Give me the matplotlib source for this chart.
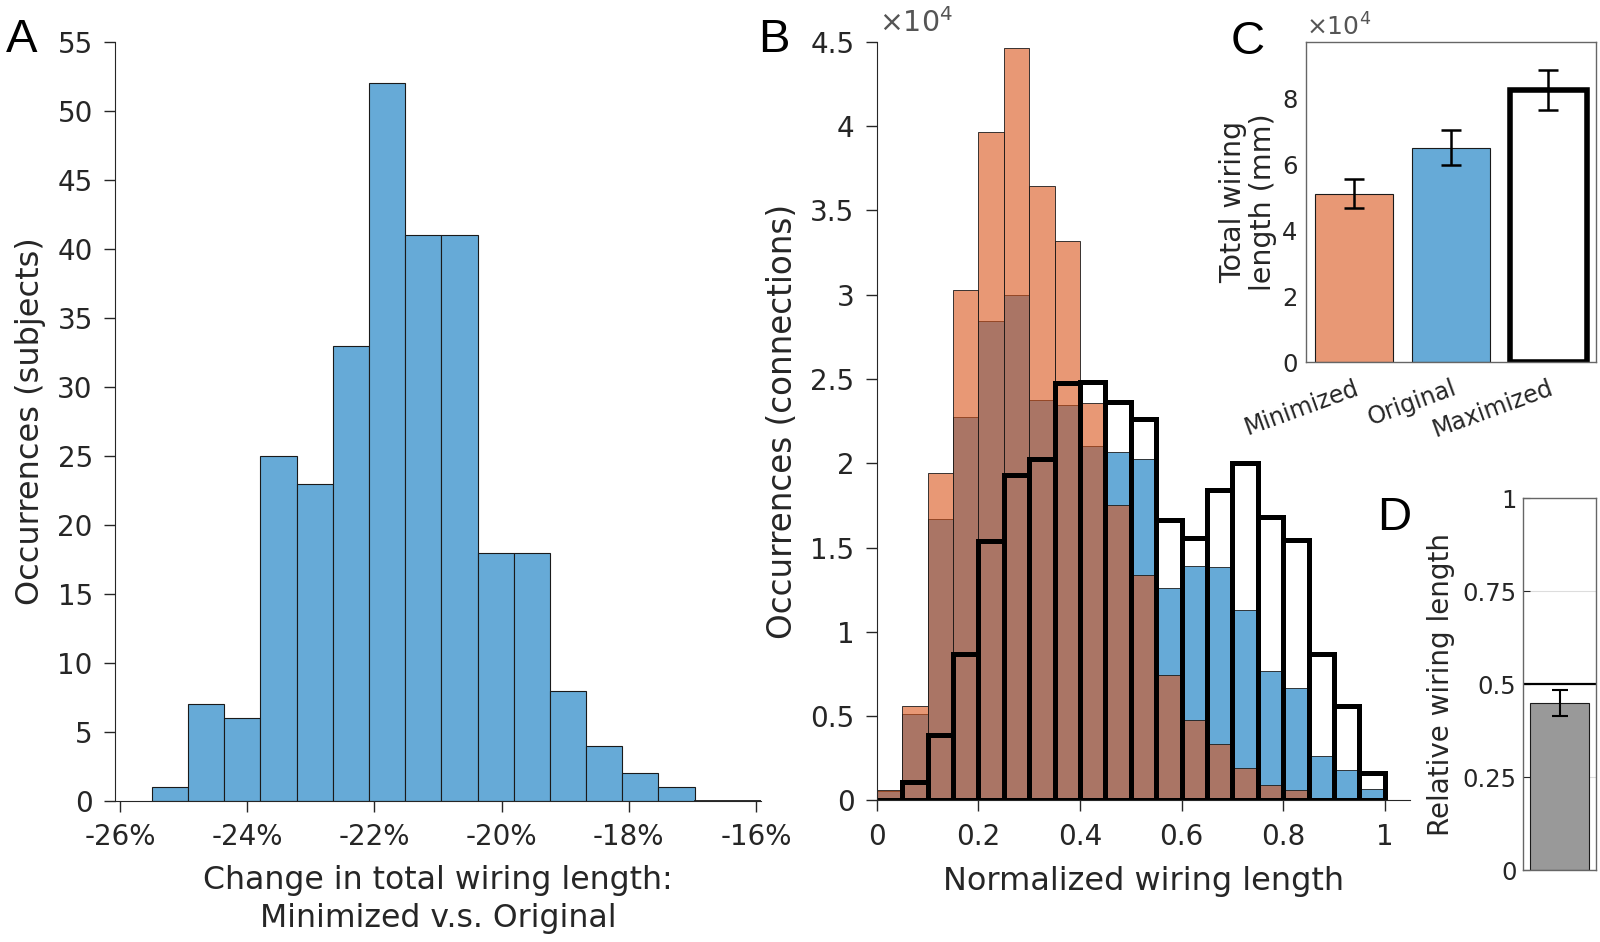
import numpy as np
import matplotlib
matplotlib.use('Agg')
import matplotlib.pyplot as plt

# Painel A: variação do comprimento total (minimizado vs original)
a_counts = [1, 7, 6, 25, 23, 33, 52, 41, 41, 18, 18, 8, 4, 2, 1, 0, 0]
a_left = -25.5
a_binw = 0.569
a_xticks = [-26, -24, -22, -20, -18, -16]
a_yticks = [0, 5, 10, 15, 20, 25, 30, 35, 40, 45, 50, 55]

# Painel B: histogramas do comprimento normalizado (20 bins de 0.05)
b_binw = 0.05
b_min = [600, 5620, 19410, 30280, 39660, 44630, 36460, 33170, 23600, 17520,
         13390, 7450, 4780, 3320, 1930, 930, 620, 160, 60, 0]
b_orig = [580, 5120, 16680, 22730, 28450, 29970, 23760, 23450, 21000, 20650,
          20250, 12610, 13910, 13850, 11300, 7670, 6680, 2610, 1830, 700]
b_max = [0, 1090, 3880, 8700, 15370, 19320, 20250, 24780, 24840, 23660,
         22610, 16610, 15590, 18390, 20000, 16830, 15430, 8700, 5590, 1610]
b_xticks = [0, 0.2, 0.4, 0.6, 0.8, 1]
b_yticks = [0, 0.5, 1, 1.5, 2, 2.5, 3, 3.5, 4, 4.5]

# Painel C: comprimento total
c_labels = ['Minimized', 'Original', 'Maximized']
c_vals = [51250, 65250, 82800]
c_err = [4500, 5300, 6000]
c_yticks = [0, 2, 4, 6, 8]

# Painel D: comprimento relativo
d_val = 0.449
d_err = 0.034
d_ref = 0.5
d_yticks = [0, 0.25, 0.5, 0.75, 1]
d_ylabels = ['0', '0.25', '0.5', '0.75', '1']

txt = '#262626'
orange = (0.85, 0.325, 0.098)
blue = (0.0, 0.447, 0.741)
orange_l = '#E89875'
blue_l = '#66AAD7'

plt.rcParams['font.family'] = 'DejaVu Sans'
plt.rcParams['text.color'] = txt
plt.rcParams['axes.labelcolor'] = txt
plt.rcParams['xtick.color'] = txt
plt.rcParams['ytick.color'] = txt

fig = plt.figure(figsize=(16, 9.42), dpi=100)

# ---------- A ----------
ax = fig.add_axes([0.0719, 0.1497, 0.4038, 0.8057])
a_edges = a_left + a_binw * np.arange(len(a_counts) + 1)
ax.bar(a_edges[:-1], a_counts, width=a_binw, align='edge',
       color=blue_l, edgecolor='#1a1a1a', linewidth=0.8)
# bins vazios no fim aparecem como traço na base
n_full = len([c for c in a_counts if c > 0])
ax.plot(a_edges[n_full:], np.zeros(len(a_edges) - n_full), color='#1a1a1a',
        linewidth=2, clip_on=True)
ax.set_xlim(-26.08, -15.92)
ax.set_ylim(0, 55)
ax.set_xticks(a_xticks)
ax.set_xticklabels([f'{t}%' for t in a_xticks])
ax.set_yticks(a_yticks)
ax.spines['top'].set_visible(False)
ax.spines['right'].set_visible(False)
for s in ['left', 'bottom']:
    ax.spines[s].set_color(txt)
ax.tick_params(direction='out', length=8, width=1, labelsize=20, pad=8)
ax.set_ylabel('Occurrences (subjects)', fontsize=23, labelpad=8)
ax.set_xlabel('Change in total wiring length:\nMinimized v.s. Original',
              fontsize=22.7, linespacing=1.3, labelpad=10)
fig.text(0.004, 0.945, 'A', fontsize=34, family='Liberation Sans', color='k')

# ---------- B ----------
ax = fig.add_axes([0.548, 0.1503, 0.3333, 0.8054])
b_edges = b_binw * np.arange(len(b_min) + 1)
ax.bar(b_edges[:-1], b_orig, width=b_binw, align='edge',
       color=blue + (0.6,), edgecolor='#1a1a1a', linewidth=0.6)
ax.bar(b_edges[:-1], b_min, width=b_binw, align='edge',
       color=orange + (0.6,), edgecolor='#1a1a1a', linewidth=0.6)
ax.bar(b_edges[:-1], b_max, width=b_binw, align='edge',
       fill=False, edgecolor='k', linewidth=3.6, joinstyle='miter')
ax.set_xlim(0, 1.05)
ax.set_ylim(0, 45000)
ax.set_xticks(b_xticks)
ax.set_xticklabels([f'{t:g}' for t in b_xticks])
ax.set_yticks([v * 1e4 for v in b_yticks])
ax.set_yticklabels([f'{v:g}' for v in b_yticks])
ax.spines['top'].set_visible(False)
ax.spines['right'].set_visible(False)
for s in ['left', 'bottom']:
    ax.spines[s].set_color(txt)
    ax.spines[s].set_linewidth(0.8)
ax.tick_params(direction='out', length=8, width=1, labelsize=20, pad=8)
ax.set_ylabel('Occurrences (connections)', fontsize=23.5, labelpad=8)
ax.set_xlabel('Normalized wiring length', fontsize=23, labelpad=11)
ax.text(0.005, 1.005, r'$\times10^4$', transform=ax.transAxes,
        fontsize=20.5, color='#555555', va='bottom', ha='left')
fig.text(0.474, 0.945, 'B', fontsize=34, family='Liberation Sans', color='k')

# ---------- C ----------
ax = fig.add_axes([0.8163, 0.6154, 0.1813, 0.3403])
xc = np.arange(1, len(c_vals) + 1)
ax.bar(xc[0], c_vals[0], width=0.8, color=orange_l, edgecolor='#1a1a1a', linewidth=0.8)
ax.bar(xc[1], c_vals[1], width=0.8, color=blue_l, edgecolor='#1a1a1a', linewidth=0.8)
ax.bar(xc[2], c_vals[2], width=0.8, color='white', edgecolor='k', linewidth=4)
ax.errorbar(xc, c_vals, yerr=c_err, fmt='none', ecolor='k', elinewidth=1.8,
            capsize=7, capthick=1.8)
ax.set_xlim(0.51, 3.49)
ax.set_ylim(0, 97400)
ax.set_yticks([v * 1e4 for v in c_yticks])
ax.set_yticklabels([str(v) for v in c_yticks])
ax.set_xticks(xc)
ax.set_xticklabels(c_labels, rotation=20, ha='right', rotation_mode='anchor')
for s in ax.spines.values():
    s.set_color('#666666')
    s.set_linewidth(1)
ax.tick_params(axis='y', direction='in', length=0, labelsize=17.5, pad=6)
ax.tick_params(axis='x', direction='in', length=0, labelsize=17, pad=10)
ax.set_ylabel('Total wiring\nlength (mm)', fontsize=20.5, labelpad=4, linespacing=1.05)
ax.text(0.0, 1.005, r'$\times10^4$', transform=ax.transAxes,
        fontsize=18, color='#555555', va='bottom', ha='left')
fig.text(0.769, 0.943, 'C', fontsize=34, family='Liberation Sans', color='k')

# ---------- D ----------
ax = fig.add_axes([0.9521, 0.0764, 0.0454, 0.3946])
ax.set_axisbelow(True)
ax.grid(axis='y', color='#dddddd', linewidth=0.8)
ax.bar(1, d_val, width=0.8, color='#999999', edgecolor='#1a1a1a', linewidth=0.8)
ax.errorbar([1], [d_val], yerr=[d_err], fmt='none', ecolor='k', elinewidth=1.5,
            capsize=6, capthick=1.5)
ax.axhline(d_ref, color='k', linewidth=1.6)
ax.set_xlim(0.51, 1.49)
ax.set_ylim(0, 1)
ax.set_xticks([])
ax.set_yticks(d_yticks)
ax.set_yticklabels(d_ylabels)
for s in ax.spines.values():
    s.set_color('#666666')
    s.set_linewidth(1)
ax.tick_params(axis='y', direction='in', length=5, labelsize=17.5, pad=5)
ax.set_ylabel('Relative wiring length', fontsize=20, labelpad=5)
fig.text(0.861, 0.437, 'D', fontsize=34, family='Liberation Sans', color='k')

fig.savefig('out.png', dpi=100)
